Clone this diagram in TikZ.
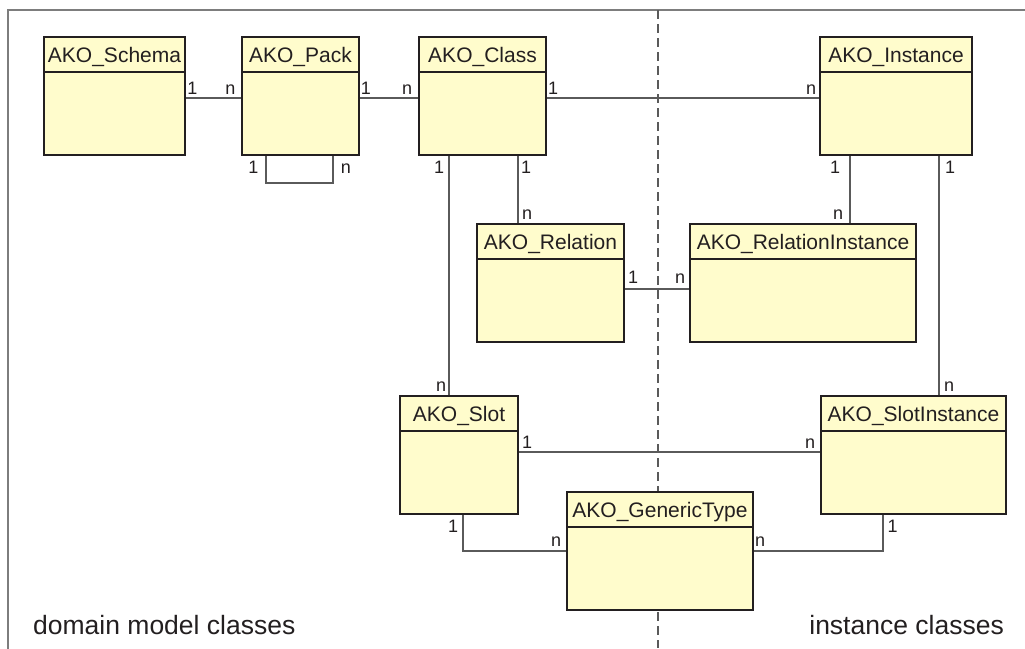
\documentclass[tikz,border=0pt]{standalone}
\usepackage{fontspec}
\setmainfont{Liberation Sans}
\usetikzlibrary{calc}
\definecolor{boxfill}{RGB}{255,252,204}
\definecolor{boxline}{RGB}{35,31,32}
\definecolor{connline}{RGB}{90,90,90}
\definecolor{framegray}{RGB}{125,125,125}
\definecolor{inkcol}{RGB}{35,31,32}
\pgfdeclarelayer{background}
\pgfsetlayers{background,main}
\tikzset{
  classbox/.style={draw=boxline, fill=boxfill, line width=2pt, rectangle,
    anchor=north west, inner sep=0pt, minimum height=118pt},
  classtitle/.style={anchor=base, font=\fontsize{21}{25}\selectfont, text=inkcol, inner sep=0pt},
  mult/.style={anchor=base, font=\fontsize{18}{21}\selectfont, text=inkcol, inner sep=0pt},
  conn/.style={draw=connline, line width=1.3pt},
  divider/.style={draw=connline, line width=1.2pt, dash pattern=on 9pt off 5pt},
  areatext/.style={font=\fontsize{26.5}{30}\selectfont, text=inkcol, inner sep=0pt},
}
% class box: name, left x, top y, width, title
\newcommand\umlclass[5]{%
  \node[classbox, minimum width=#4pt] (#1) at (#2,#3) {};
  \draw[draw=boxline, line width=1.6pt] ([yshift=-36pt]#1.north west) -- ([yshift=-36pt]#1.north east);
  \node[classtitle] (#1-title) at ([yshift=-26.5pt]#1.north) {#5};
}
\begin{document}
\begin{tikzpicture}[x=1pt, y=-1pt]
  \useasboundingbox (0,0) rectangle (1025,648);
  \clip (0,0) rectangle (1025,648);

  % classes
  \umlclass{schema}{43}{36}{141}{AKO\_Schema}
  \umlclass{pack}{241}{36}{117}{AKO\_Pack}
  \umlclass{class}{418}{36}{127}{AKO\_Class}
  \umlclass{instance}{819}{36}{152}{AKO\_Instance}
  \umlclass{relation}{476}{223}{147}{AKO\_Relation}
  \umlclass{relinst}{689}{223}{226}{AKO\_RelationInstance}
  \umlclass{slot}{399}{395}{118}{AKO\_Slot}
  \umlclass{slotinst}{820}{395}{185}{AKO\_SlotInstance}
  \umlclass{generic}{566}{491}{186}{AKO\_GenericType}

  \begin{pgfonlayer}{background}
    % outer frame and the dividing line
    \draw[draw=framegray, line width=1.5pt] (8,10) rectangle (1045,665);
    \coordinate (divtop) at (658,10);
    \coordinate (divbot) at (658,648);
    \draw[divider] (divtop) -- (divbot);

    % associations
    \draw[conn] ([yshift=-62pt]schema.north east) -- ([yshift=-62pt]pack.north west);
    \draw[conn] ([yshift=-62pt]pack.north east) -- ([yshift=-62pt]class.north west);
    \draw[conn] ([yshift=-62pt]class.north east) -- ([yshift=-62pt]instance.north west);
    \draw[conn] ([xshift=25pt]pack.south west) -- ++(0,27) -| ([xshift=92pt]pack.south west);
    \draw[conn] ([xshift=31pt]class.south west) -- ([xshift=31pt]class.south west |- slot.north);
    \draw[conn] ([xshift=100pt]class.south west) -- ([xshift=100pt]class.south west |- relation.north);
    \draw[conn] ([xshift=31pt]instance.south west) -- ([xshift=31pt]instance.south west |- relinst.north);
    \draw[conn] ([xshift=120pt]instance.south west) -- ([xshift=120pt]instance.south west |- slotinst.north);
    \draw[conn] ([yshift=-66pt]relation.north east) -- ([yshift=-66pt]relinst.north west);
    \draw[conn] ([yshift=-57pt]slot.north east) -- ([yshift=-57pt]slotinst.north west);
    \draw[conn] ([xshift=64pt]slot.south west) |- ([yshift=-60pt]generic.north west);
    \draw[conn] ([xshift=63pt]slotinst.south west) |- ([yshift=-60pt]generic.north east);
  \end{pgfonlayer}

  % multiplicities
  \node[mult] (m1) at (192.5,94.3) {1};
  \node[mult] (m2) at (230.5,94) {n};
  \node[mult] (m3) at (366,94.3) {1};
  \node[mult] (m4) at (407,94) {n};
  \node[mult] (m5) at (553,94.3) {1};
  \node[mult] (m6) at (811,94) {n};
  \node[mult] (m7) at (253.5,173) {1};
  \node[mult] (m8) at (346,173) {n};
  \node[mult] (m9) at (439,173) {1};
  \node[mult] (m10) at (526,173) {1};
  \node[mult] (m11) at (527,219.5) {n};
  \node[mult] (m12) at (835,173) {1};
  \node[mult] (m13) at (950,173) {1};
  \node[mult] (m14) at (838,219.5) {n};
  \node[mult] (m15) at (441,391) {n};
  \node[mult] (m16) at (949,391) {n};
  \node[mult] (m17) at (633,283) {1};
  \node[mult] (m18) at (680,283) {n};
  \node[mult] (m19) at (527,448.5) {1};
  \node[mult] (m20) at (810,448.5) {n};
  \node[mult] (m21) at (453,532.5) {1};
  \node[mult] (m22) at (556,546) {n};
  \node[mult] (m23) at (892.5,532.5) {1};
  \node[mult] (m24) at (760,546) {n};

  % area captions
  \node[areatext, anchor=base west] (domain) at (33,634) {domain model classes};
  \node[areatext, anchor=base east] (inst) at (1004,634) {instance classes};
\end{tikzpicture}
\end{document}
